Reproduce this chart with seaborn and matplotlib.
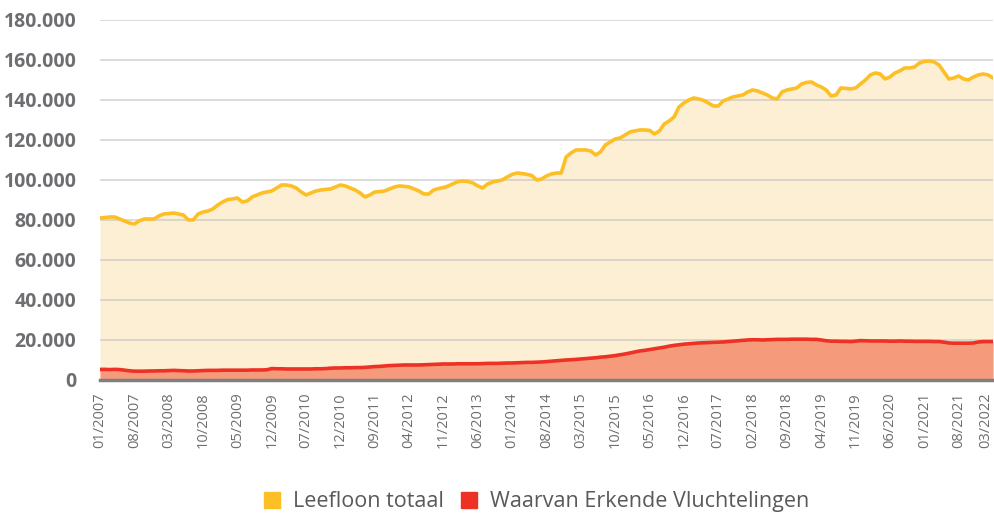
import pandas as pd
import numpy as np
import matplotlib
matplotlib.use("Agg")
import matplotlib.pyplot as plt
import seaborn as sns
from matplotlib.patches import Patch
from matplotlib.ticker import FuncFormatter

# monthly data 01/2007 .. 03/2022 (values in thousands)
months = pd.period_range("2007-01", "2022-03", freq="M")

leefloon_totaal = [
    81.0, 81.2, 81.5, 81.5, 80.5, 79.5, 78.5, 78.0, 79.5, 80.5,
    80.5, 80.5, 82.0, 83.0, 83.2, 83.5, 83.0, 82.5, 80.0, 80.0,
    83.0, 84.0, 84.5, 85.5, 87.5, 89.0, 90.2, 90.5, 91.0, 89.0,
    89.5, 91.5, 92.5, 93.5, 94.0, 94.5, 96.0, 97.5, 97.5, 97.0,
    96.0, 94.0, 92.5, 93.5, 94.5, 95.0, 95.3, 95.5, 96.5, 97.5,
    97.0, 96.0, 95.0, 93.5, 91.5, 92.5, 94.0, 94.2, 94.5, 95.5,
    96.5, 97.0, 96.8, 96.5, 95.5, 94.5, 93.0, 93.0, 95.0, 95.7,
    96.2, 97.0, 98.2, 99.2, 99.5, 99.2, 98.5, 97.0, 96.0, 98.0,
    99.0, 99.5, 100.0, 101.5, 102.8, 103.5, 103.2, 102.8, 102.2, 100.0,
    100.5, 102.0, 103.0, 103.5, 103.5, 111.5, 113.5, 115.0, 115.0, 115.0,
    114.5, 112.5, 114.0, 117.5, 119.0, 120.5, 121.0, 122.5, 124.0, 124.5,
    125.0, 125.0, 124.8, 123.0, 124.5, 128.0, 129.5, 131.5, 136.5, 138.5,
    140.0, 141.0, 140.5, 139.8, 138.5, 137.0, 137.0, 139.5, 140.5, 141.5,
    142.0, 142.5, 144.0, 145.0, 144.5, 143.5, 142.5, 141.0, 140.5, 144.0,
    145.0, 145.5, 146.0, 148.0, 148.8, 149.0, 147.5, 146.5, 145.0, 142.0,
    142.5, 146.0, 145.8, 145.5, 146.0, 148.0, 150.0, 152.5, 153.5, 153.0,
    150.5, 151.5, 153.5, 154.5, 156.0, 156.0, 156.5, 158.5, 159.3, 159.5,
    159.0, 157.5, 154.0, 150.5, 151.0, 152.0, 150.5, 150.0, 151.5, 152.5,
    153.0, 152.5, 151.0,
]

erkende_vluchtelingen = [
    5.3, 5.3, 5.2, 5.3, 5.2, 4.9, 4.6, 4.4, 4.4, 4.4,
    4.5, 4.5, 4.6, 4.6, 4.7, 4.8, 4.7, 4.6, 4.5, 4.5,
    4.6, 4.7, 4.8, 4.8, 4.8, 4.9, 4.9, 4.9, 4.9, 4.9,
    4.9, 5.0, 5.0, 5.0, 5.1, 5.7, 5.6, 5.6, 5.5, 5.5,
    5.5, 5.5, 5.5, 5.5, 5.6, 5.6, 5.7, 5.9, 6.0, 6.0,
    6.1, 6.1, 6.2, 6.2, 6.3, 6.5, 6.7, 6.8, 7.0, 7.2,
    7.3, 7.4, 7.5, 7.5, 7.5, 7.5, 7.6, 7.7, 7.8, 7.9,
    8.0, 8.0, 8.0, 8.1, 8.1, 8.1, 8.1, 8.1, 8.2, 8.3,
    8.3, 8.3, 8.4, 8.5, 8.5, 8.6, 8.7, 8.8, 8.8, 8.9,
    9.0, 9.2, 9.4, 9.6, 9.8, 10.0, 10.1, 10.3, 10.5, 10.7,
    10.9, 11.1, 11.4, 11.6, 11.9, 12.2, 12.6, 13.0, 13.5, 14.0,
    14.5, 14.8, 15.2, 15.6, 16.0, 16.4, 16.9, 17.3, 17.6, 17.9,
    18.1, 18.3, 18.5, 18.6, 18.7, 18.8, 18.9, 19.0, 19.2, 19.4,
    19.6, 19.8, 20.0, 20.1, 20.1, 20.0, 20.1, 20.2, 20.3, 20.3,
    20.3, 20.4, 20.4, 20.4, 20.4, 20.3, 20.3, 20.0, 19.6, 19.4,
    19.4, 19.3, 19.3, 19.2, 19.4, 19.7, 19.6, 19.5, 19.5, 19.5,
    19.5, 19.4, 19.4, 19.5, 19.4, 19.4, 19.3, 19.3, 19.3, 19.3,
    19.2, 19.2, 18.9, 18.5, 18.4, 18.4, 18.4, 18.4, 18.5, 19.0,
    19.2, 19.2, 19.2,
]

# labels as printed on the original axis (every 7th month)
tick_labels = [
    "01/2007", "08/2007", "03/2008", "10/2008", "05/2009", "12/2009", "07/2010",
    "12/2010", "09/2011", "04/2012", "11/2012", "06/2013", "01/2014", "08/2014",
    "03/2015", "10/2015", "05/2016", "12/2016", "07/2017", "02/2018", "09/2018",
    "04/2019", "11/2019", "06/2020", "01/2021", "08/2021", "03/2022",
]

df = pd.DataFrame({
    "maand": months.astype(str),
    "pos": np.arange(len(months)),
    "Leefloon totaal": np.array(leefloon_totaal) * 1000,
    "Waarvan Erkende Vluchtelingen": np.array(erkende_vluchtelingen) * 1000,
})

sns.set_style("white")
plt.rcParams["font.family"] = ["Open Sans", "DejaVu Sans"]

geel, geel_vlak = "#fdbf26", "#fdefd4"
rood, rood_vlak = "#ee3124", "#f59b7c"
grijs = "#6d6e71"

fig = plt.figure(figsize=(9.95, 5.13), dpi=100)
ax = fig.add_axes([0.1005, 0.2593, 0.8975, 0.7018])

ax.fill_between(df["pos"], 0, df["Leefloon totaal"], color=geel_vlak, lw=0, zorder=1)
ax.fill_between(df["pos"], 0, df["Waarvan Erkende Vluchtelingen"], color=rood_vlak, lw=0, zorder=2)
sns.lineplot(data=df, x="pos", y="Leefloon totaal", color=geel, lw=2.6, ax=ax, zorder=4)
sns.lineplot(data=df, x="pos", y="Waarvan Erkende Vluchtelingen", color=rood, lw=2.6, ax=ax, zorder=4)

ax.set_xlim(0, len(months) - 1)
ax.set_ylim(0, 180000)
ax.set_yticks(range(0, 180001, 20000))
ax.yaxis.set_major_formatter(FuncFormatter(lambda v, p: "{:,.0f}".format(v).replace(",", ".")))
ax.grid(axis="y", color="#bfbfbf", alpha=0.6, lw=1.3, zorder=3)
ax.set_axisbelow(False)

ax.set_xticks(df["pos"][::7])
ax.set_xticklabels(tick_labels, rotation=90)
ax.tick_params(axis="x", length=0, pad=9, labelsize=10.5, labelcolor=grijs)
ax.tick_params(axis="y", length=0, pad=17, labelsize=14, labelcolor=grijs)
for lbl in ax.get_yticklabels():
    lbl.set_fontweight("bold")
ax.get_xticklabels()[-1].set_horizontalalignment("right")
ax.set_xlabel("")
ax.set_ylabel("")

for s in ["top", "right", "left"]:
    ax.spines[s].set_visible(False)
ax.spines["bottom"].set_color("#7f7f7f")
ax.spines["bottom"].set_linewidth(2.5)
ax.spines["bottom"].set_zorder(5)

handles = [Patch(color=geel, label="Leefloon totaal"), Patch(color=rood, label="Waarvan Erkende Vluchtelingen")]
leg = fig.legend(handles=handles, loc="center", bbox_to_anchor=(0.539, 0.022), ncol=2, frameon=False,
                 fontsize=15.5, handlelength=0.75, handleheight=0.75, handletextpad=0.6, columnspacing=0.8)
for t in leg.get_texts():
    t.set_color("#595959")

fig.savefig("out.png", dpi=100)
